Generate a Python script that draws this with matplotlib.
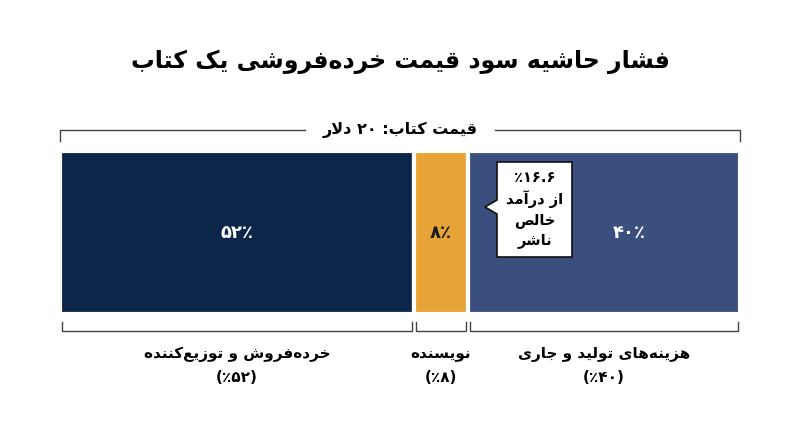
import matplotlib
matplotlib.use("Agg")
import matplotlib.pyplot as plt
from matplotlib.patches import Polygon

# ---- data ----
categories = ["خرده\u200cفروش و توزیع\u200cکننده", "نویسنده", "هزینه\u200cهای تولید و جاری"]
shares = [52, 8, 40]
bar_labels = ["۵۲٪", "۸٪", "۴۰٪"]
share_labels = ["(۵۲٪)", "(۸٪)", "(۴۰٪)"]
colors = ["#0c2649", "#e8a336", "#3a4f7d"]
label_colors = ["white", "#1a1a1a", "white"]
title = "فشار حاشیه سود قیمت خرده\u200cفروشی یک کتاب"
subtitle = "قیمت کتاب: ۲۰ دلار"
callout = ["۱۶.۶٪", "از درآمد", "خالص", "ناشر"]

# ---- minimal Persian shaping ----
F = {  # iso, fin, ini, med (None => right-joining only)
 'ا':(0xFE8D,0xFE8E,None,None),'ب':(0xFE8F,0xFE90,0xFE91,0xFE92),'ت':(0xFE95,0xFE96,0xFE97,0xFE98),
 'ج':(0xFE9D,0xFE9E,0xFE9F,0xFEA0),'ح':(0xFEA1,0xFEA2,0xFEA3,0xFEA4),'خ':(0xFEA5,0xFEA6,0xFEA7,0xFEA8),
 'د':(0xFEA9,0xFEAA,None,None),'ر':(0xFEAD,0xFEAE,None,None),'ز':(0xFEAF,0xFEB0,None,None),
 'س':(0xFEB1,0xFEB2,0xFEB3,0xFEB4),'ش':(0xFEB5,0xFEB6,0xFEB7,0xFEB8),'ص':(0xFEB9,0xFEBA,0xFEBB,0xFEBC),
 'ع':(0xFEC9,0xFECA,0xFECB,0xFECC),'ف':(0xFED1,0xFED2,0xFED3,0xFED4),'ق':(0xFED5,0xFED6,0xFED7,0xFED8),
 'ل':(0xFEDD,0xFEDE,0xFEDF,0xFEE0),'م':(0xFEE1,0xFEE2,0xFEE3,0xFEE4),'ن':(0xFEE5,0xFEE6,0xFEE7,0xFEE8),
 'ه':(0xFEE9,0xFEEA,0xFEEB,0xFEEC),'و':(0xFEED,0xFEEE,None,None),'ک':(0xFB8E,0xFB8F,0xFB90,0xFB91),
 'ی':(0xFBFC,0xFBFD,0xFBFE,0xFBFF),'آ':(0xFE81,0xFE82,None,None),
}
def joins_left(c): return c in F and F[c][2] is not None
def shape(s):
    s = s.replace('لا', '\uE000')
    out = []
    for i, c in enumerate(s):
        prev = s[i-1] if i > 0 else ''
        nxt = s[i+1] if i+1 < len(s) else ''
        pj = joins_left(prev)
        if c == '\uE000':
            out.append(chr(0xFEFC if pj else 0xFEFB)); continue
        if c not in F:
            if c != '\u200c': out.append(c)
            continue
        nj = joins_left(c) and (nxt in F or nxt == '\uE000')
        iso, fin, ini, med = F[c]
        if pj and nj: g = med
        elif pj: g = fin
        elif nj: g = ini
        else: g = iso
        out.append(chr(g))
    r = ''.join(reversed(out))
    res, run = [], []
    digs = set('۰۱۲۳۴۵۶۷۸۹0123456789.')
    for ch in r:
        if ch in digs: run.append(ch)
        else:
            res.extend(reversed(run)); run = []
            res.append({'(': ')', ')': '('}.get(ch, ch))
    res.extend(reversed(run))
    return ''.join(res)

fam = ['DejaVu Sans']
fig = plt.figure(figsize=(8, 4.47), dpi=100)
ax = fig.add_axes([0, 0, 1, 1])
ax.set_xlim(0, 800); ax.set_ylim(447, 0); ax.axis('off')

x0, W = 60, 680
y_top, y_bot = 151, 314
left = x0
lefts = []
for s, c, bl, lc in zip(shares, colors, bar_labels, label_colors):
    w = s / 100 * W
    ax.barh((y_top + y_bot) / 2, w, left=left, height=y_bot - y_top, color=c,
            edgecolor='white', linewidth=3)
    lefts.append((left, w))
    ax.text(left + w / 2 + (0 if s != 40 else 25), (y_top + y_bot) / 2, bl, color=lc,
            ha='center', va='center', fontsize=13, fontweight='bold', family=fam)
    left += w

ax.text(400, 62, shape(title), ha='center', va='center', fontsize=17, fontweight='bold', family=fam)

# top bracket
ax.plot([x0, x0, 305], [141, 130, 130], color='#444', lw=1)
ax.plot([495, x0 + W, x0 + W], [130, 130, 141], color='#444', lw=1)
ax.text(400, 130, shape(subtitle), ha='center', va='center', fontsize=11.5, fontweight='bold', family=fam)

# bottom brackets
for (l, w), cat, sl in zip(lefts, categories, share_labels):
    a, b = l + 2, l + w - 2
    ax.plot([a, a, b, b], [322, 331, 331, 322], color='#444', lw=1)
    ax.text(l + w / 2, 354, shape(cat), ha='center', va='center', fontsize=11, fontweight='bold', family=fam)
    ax.text(l + w / 2, 378, shape(sl), ha='center', va='center', fontsize=11, fontweight='bold', family=fam)

# callout
bx0, bx1, by0, by1 = 497, 572, 162, 257
poly = Polygon([(bx0, by0), (bx1, by0), (bx1, by1), (bx0, by1), (bx0, 214), (485, 207), (bx0, 200)],
               closed=True, facecolor='white', edgecolor='#111', lw=1.2)
ax.add_patch(poly)
for i, t in enumerate(callout):
    ax.text((bx0 + bx1) / 2, 178 + i * 21, shape(t), ha='center', va='center', fontsize=10.5,
            fontweight='bold', family=fam)

fig.savefig('out.png', dpi=100, facecolor='white')
